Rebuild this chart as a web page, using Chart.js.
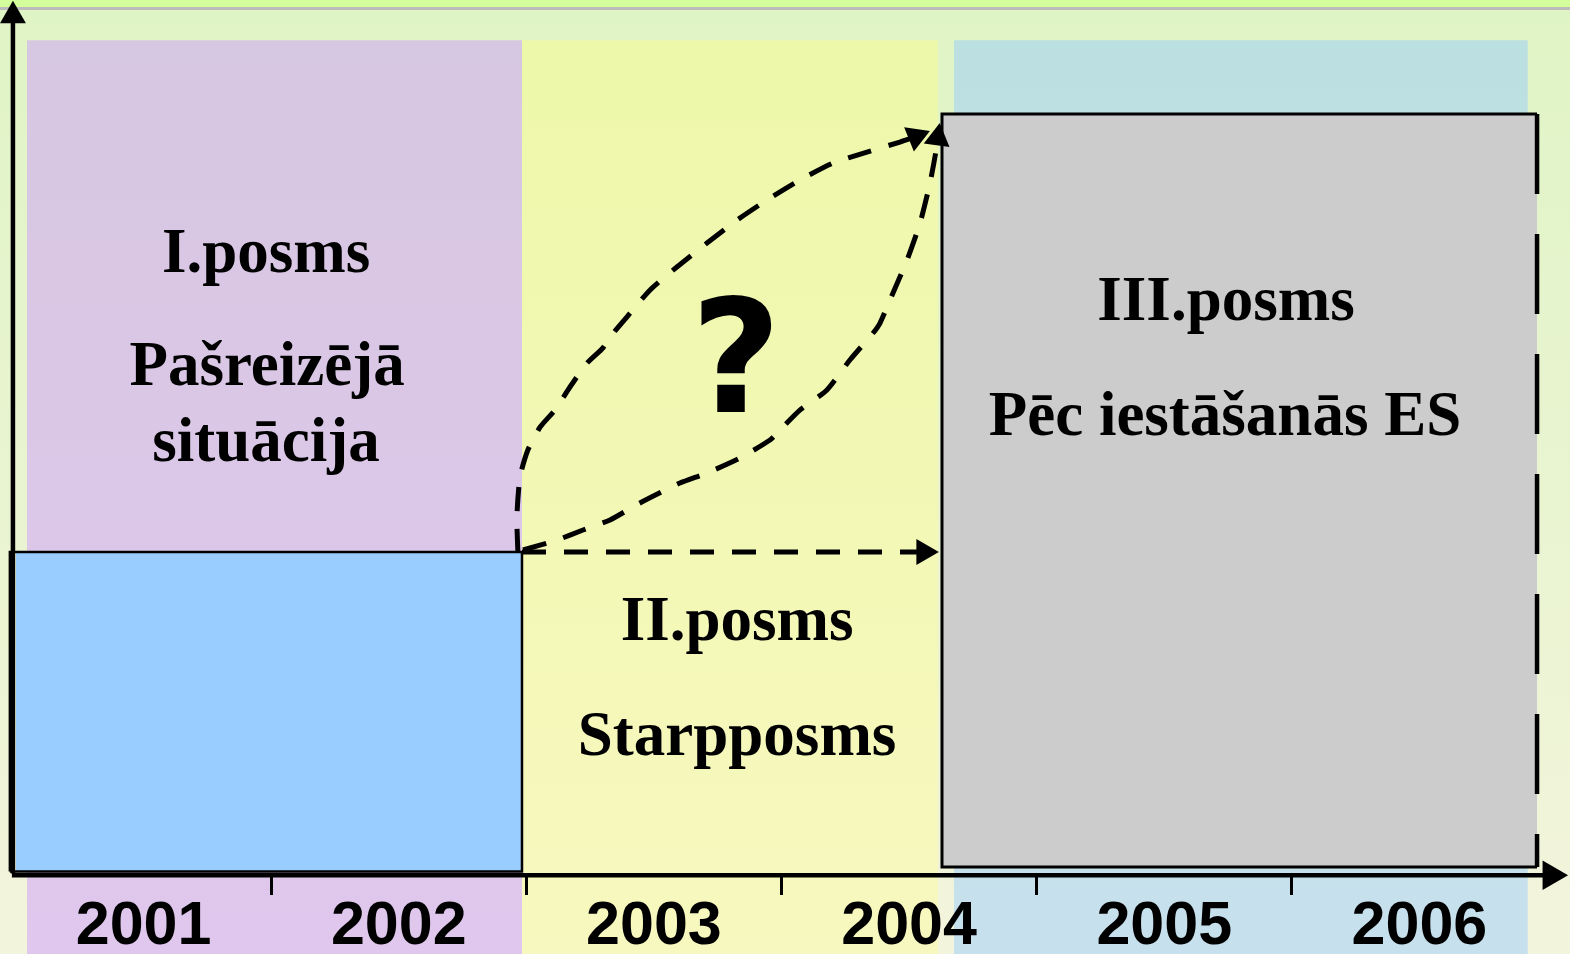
<!DOCTYPE html>
<html>
<head>
<meta charset="utf-8">
<script src="https://cdn.jsdelivr.net/npm/chart.js@4.4.1/dist/chart.umd.min.js"></script>
<style>
  html, body { margin: 0; padding: 0; overflow: hidden; }
  #wrap { width: 1570px; height: 954px; position: relative; }
</style>
</head>
<body>
<div id="wrap"><canvas id="chart"></canvas></div>
<script>
// years on the time axis and the tick marks between them
const years = [2001, 2002, 2003, 2004, 2005, 2006];
const yearBreaks = [2001.5, 2002.5, 2003.5, 2004.5, 2005.5];

// coloured background bands (one per stage)
const bandFrom = [2000.543, 2002.483, 2004.176];
const bandTo = [2002.483, 2004.113, 2006.425];
const bandTop = [95.4, 95.4, 95.4];

// stage boxes: I (blue) and III (grey)
const boxFrom = [2000.476, 2004.129];
const boxTo = [2002.483, 2006.461];
const boxLow = [0.42, 0.94];
const boxHigh = [36.93, 86.97];

// straight dashed arrow (stage II)
const straightX = [2002.483, 2004.058];
const straightY = [36.93, 36.93];

// upper dashed curve
const upperX = [2002.467, 2002.463, 2002.475, 2002.506, 2002.554, 2002.612, 2002.671, 2002.738, 2002.800, 2002.828,
  2002.894, 2002.985, 2003.090, 2003.208, 2003.326, 2003.443, 2003.572, 2003.702, 2003.835, 2003.964, 2004.027];
const upperY = [36.82, 40.93, 45.50, 48.58, 51.21, 53.15, 55.78, 58.52, 60.24, 61.49,
  63.78, 66.86, 69.49, 72.23, 74.86, 77.15, 79.43, 81.37, 82.63, 83.77, 84.40];

// lower dashed curve
const lowerX = [2002.487, 2002.620, 2002.722, 2002.828, 2002.945, 2003.102, 2003.208, 2003.337, 2003.455, 2003.494,
  2003.572, 2003.678, 2003.768, 2003.859, 2003.886, 2003.937, 2003.992, 2004.043, 2004.082, 2004.104, 2004.112];
const lowerY = [37.16, 38.30, 39.44, 40.59, 42.53, 44.81, 45.96, 47.67, 49.73, 50.87,
  53.15, 55.44, 58.87, 61.95, 63.09, 66.52, 70.29, 74.52, 79.09, 82.50, 84.25];

// stage captions and where they sit (in axis units)
const captions = ['I.posms', 'Pašreizējā', 'situācija', 'II.posms', 'Starpposms', 'III.posms', 'Pēc iestāšanās ES', '?'];
const captionX = [2001.480, 2001.484, 2001.480, 2003.326, 2003.326, 2005.242, 2005.238, 2003.322];
const captionY = [68.96, 56.05, 47.33, 26.87, 13.73, 63.44, 50.30, 52.90];

const X_MIN = 2000.5, X_MAX = 2006.5;
const Y_MIN = -9, Y_MAX = 100;

const pts = (xs, ys) => xs.map((x, i) => ({ x: x, y: ys[i] }));

function vGrad(chart, top, bottom) {
    const { ctx, chartArea } = chart;
    if (!chartArea) return top;
    const g = ctx.createLinearGradient(0, chartArea.top, 0, chartArea.bottom);
    g.addColorStop(0, top);
    g.addColorStop(1, bottom);
    return g;
}

const bandColors = [
    ['#d6c7e1', '#e0c7ed'],
    ['#edf8a9', '#f7f8bf'],
    ['#bbe0e0', '#c7e0ed'],
];

function arrowLine(data, opts) {
    const n = data.length;
    return Object.assign({
        data: data,
        borderColor: '#000',
        borderWidth: 5,
        borderDash: [24, 18],
        tension: 0.2,
        fill: false,
        pointStyle: 'triangle',
        pointRadius: (c) => c.dataIndex === n - 1 ? 15 : 0,
        pointBackgroundColor: '#000',
        pointBorderWidth: 0,
        clip: false,
    }, opts);
}

// keep the axes at y = 0 from taking any room in the layout
const noRoom = (s) => {
    s.height = 0;
    s.paddingTop = 0; s.paddingBottom = 0; s.paddingLeft = 0; s.paddingRight = 0;
};

const datasets = [];

// background bands
bandFrom.forEach((x0, i) => {
    datasets.push({
        data: [{ x: x0, y: bandTop[i] }, { x: bandTo[i], y: bandTop[i] }],
        fill: 'start',
        backgroundColor: (c) => vGrad(c.chart, bandColors[i][0], bandColors[i][1]),
        borderColor: 'transparent',
        borderWidth: 0,
        pointRadius: 0,
        order: 20,
    });
});

// box fills
const boxColors = ['#99ccff', '#cccccc'];
boxFrom.forEach((x0, i) => {
    datasets.push({
        data: [{ x: x0, y: boxHigh[i] }, { x: boxTo[i], y: boxHigh[i] }],
        fill: { value: boxLow[i] },
        backgroundColor: boxColors[i],
        borderColor: 'transparent',
        borderWidth: 0,
        pointRadius: 0,
        order: 15,
    });
});

// box I outline
datasets.push({
    data: pts([boxFrom[0], boxFrom[0], boxTo[0], boxTo[0], boxFrom[0]],
              [boxLow[0], boxHigh[0], boxHigh[0], boxLow[0], boxLow[0]]),
    borderColor: '#000', borderWidth: 2.5, pointRadius: 0, fill: false,
    borderJoinStyle: 'miter', clip: false, order: 12,
});
// box III outline: solid on three sides, long dashes on the right
datasets.push({
    data: pts([boxTo[1], boxFrom[1], boxFrom[1], boxTo[1]],
              [boxHigh[1], boxHigh[1], boxLow[1], boxLow[1]]),
    borderColor: '#000', borderWidth: 3, pointRadius: 0, fill: false,
    borderJoinStyle: 'miter', clip: false, order: 12,
});
datasets.push({
    data: pts([boxTo[1], boxTo[1]], [boxHigh[1], boxLow[1]]),
    borderColor: '#000', borderWidth: 4.5, borderDash: [80, 40], pointRadius: 0, fill: false,
    clip: false, order: 12,
});

// dashed arrows
datasets.push(arrowLine(pts(straightX, straightY), { pointRotation: 90, tension: 0, order: 5 }));
datasets.push(arrowLine(pts(upperX, upperY), { pointRotation: 68, order: 5 }));
datasets.push(arrowLine(pts(lowerX, lowerY), { pointRotation: 8, order: 5 }));

// axis arrows
datasets.push(arrowLine(pts([2000.488, 2000.488], [0.2, 98.2]),
    { borderDash: [], borderWidth: 4.5, tension: 0, pointRadius: (c) => c.dataIndex === 1 ? 15 : 0, pointRotation: 0, order: 1 }));
datasets.push(arrowLine(pts([2000.484, 2006.516], [0, 0]),
    { borderDash: [], borderWidth: 4.5, tension: 0, pointRadius: (c) => c.dataIndex === 1 ? 17 : 0, pointRotation: 90, order: 1 }));

// page background
const backdrop = {
    id: 'backdrop',
    beforeDraw(chart) {
        const { ctx, width, height } = chart;
        ctx.save();
        const g = ctx.createLinearGradient(0, 0, 0, height);
        g.addColorStop(0, '#dff4c5');
        g.addColorStop(1, '#f3f4dc');
        ctx.fillStyle = g;
        ctx.fillRect(0, 0, width, height);
        ctx.fillStyle = '#d4fd9b';
        ctx.fillRect(0, 0, width, 7);
        ctx.fillStyle = '#bcbcbc';
        ctx.fillRect(0, 7, width, 3);
        ctx.restore();
    }
};

// stage captions
const captionText = {
    id: 'captionText',
    afterDatasetsDraw(chart) {
        const { ctx } = chart;
        const xs = chart.scales.x, ys = chart.scales.y;
        ctx.save();
        ctx.fillStyle = '#000';
        ctx.textAlign = 'center';
        ctx.textBaseline = 'alphabetic';
        captions.forEach((t, i) => {
            const px = xs.getPixelForValue(captionX[i]);
            const py = ys.getPixelForValue(captionY[i]);
            if (t === '?') {
                ctx.font = 'bold 156px "DejaVu Sans", sans-serif';
            } else {
                ctx.font = 'bold 63px "Liberation Serif", "Times New Roman", serif';
            }
            ctx.fillText(t, px, py);
        });
        ctx.restore();
    }
};

new Chart(document.getElementById('chart'), {
    type: 'line',
    data: { datasets: datasets },
    options: {
        responsive: true,
        maintainAspectRatio: false,
        animation: false,
        events: [],
        layout: { autoPadding: false, padding: { left: 16, right: 23, top: 0, bottom: 0 } },
        plugins: { legend: { display: false }, tooltip: { enabled: false } },
        scales: {
            x: {
                type: 'linear',
                position: { y: 0 },
                min: X_MIN, max: X_MAX,
                afterBuildTicks: (s) => { s.ticks = years.map(v => ({ value: v })); },
                afterFit: noRoom,
                grid: { display: false, drawTicks: false },
                border: { display: false },
                ticks: {
                    z: 3, autoSkip: false, maxRotation: 0, padding: 15, color: '#000',
                    font: { family: '"Liberation Sans", Arial, sans-serif', size: 61, weight: 'bold' },
                    callback: (v) => String(v),
                },
            },
            xt: {
                type: 'linear',
                axis: 'x',
                position: { y: 0 },
                min: X_MIN, max: X_MAX,
                afterBuildTicks: (s) => { s.ticks = yearBreaks.map(v => ({ value: v })); },
                afterFit: noRoom,
                grid: { z: 3, drawOnChartArea: false, drawTicks: true, tickLength: 20, tickWidth: 3, tickColor: '#000' },
                border: { display: false },
                ticks: { display: false },
            },
            y: { type: 'linear', min: Y_MIN, max: Y_MAX, display: false },
        },
    },
    plugins: [backdrop, captionText],
});
</script>
</body>
</html>
